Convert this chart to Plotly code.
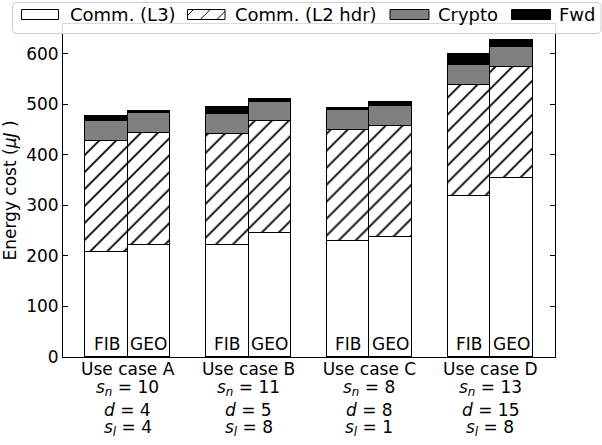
import plotly.graph_objects as go

# Use cases and their parameters
cases = ["A", "B", "C", "D"]
s_n = [10, 11, 8, 13]
d_vals = [4, 5, 8, 15]
s_l = [4, 8, 1, 8]
methods = ["FIB", "GEO"]

# Energy cost components (µJ) per use case, FIB bars then GEO bars
fib_l3 = [207, 221, 230, 319]
fib_l2 = [220, 220, 220, 220]
fib_crypto = [40, 39, 38, 39]
fib_fwd = [10, 15, 4, 22]

geo_l3 = [222, 246, 237, 355]
geo_l2 = [221, 221, 220, 219]
geo_crypto = [39, 38, 39, 39]
geo_fwd = [5, 5, 9, 15]

series_names = ["Comm. (L3)", "Comm. (L2 hdr)", "Crypto", "Fwd"]

FONT = "DejaVu Sans"
W, H = 602, 445
ML, MR, MT, MB = 63, 47, 24, 88
PW, PH = W - ML - MR, H - MT - MB

BAR_W = 0.35
idx = list(range(len(cases)))
x_fib = [i - BAR_W / 2 for i in idx]
x_geo = [i + BAR_W / 2 for i in idx]
x_all = x_fib + x_geo

styles = [
    dict(color="white"),
    dict(color="white", pattern=dict(shape="/", size=12, solidity=0.15,
                                     fgcolor="black", bgcolor="white", fgopacity=1)),
    dict(color="#808080"),
    dict(color="black"),
]
values = [
    fib_l3 + geo_l3,
    fib_l2 + geo_l2,
    fib_crypto + geo_crypto,
    fib_fwd + geo_fwd,
]

fig = go.Figure()
for name, vals, st in zip(series_names, values, styles):
    marker = dict(line=dict(color="black", width=1.2), **st)
    fig.add_trace(go.Bar(x=x_all, y=vals, width=BAR_W, name=name,
                         marker=marker, showlegend=False))

annotations = []
# method labels at the foot of each bar
for xs, m in ((x_fib, methods[0]), (x_geo, methods[1])):
    for x in xs:
        annotations.append(dict(x=x, y=0, xref="x", yref="y", text=m, showarrow=False,
                                xanchor="center", yanchor="bottom", yshift=1,
                                font=dict(family=FONT, size=17, color="black")))


def px_x(p):
    return (p - ML) / PW


def px_y(p):
    return (H - MB - p) / PH


# parameter lines under each use-case label
param_lines = [
    ([f"<i>s</i><sub><i>n</i></sub> = {v}" for v in s_n], 388),
    ([f"<i>d</i> = {v}" for v in d_vals], 410),
    ([f"<i>s</i><sub><i>l</i></sub> = {v}" for v in s_l], 428),
]
for texts, yc in param_lines:
    for i, t in zip(idx, texts):
        annotations.append(dict(x=i, y=px_y(yc), xref="x", yref="paper", text=t,
                                showarrow=False, xanchor="center", yanchor="middle",
                                height=18,
                                font=dict(family=FONT, size=17, color="black")))

shapes = []
# legend frame with rounded corners
lx0, lx1, ly0, ly1, rad = 12.5, 601, 2.5, 33.5, 4
path = (
    f"M{px_x(lx0 + rad)},{px_y(ly0)} L{px_x(lx1 - rad)},{px_y(ly0)} "
    f"Q{px_x(lx1)},{px_y(ly0)} {px_x(lx1)},{px_y(ly0 + rad)} "
    f"L{px_x(lx1)},{px_y(ly1 - rad)} Q{px_x(lx1)},{px_y(ly1)} {px_x(lx1 - rad)},{px_y(ly1)} "
    f"L{px_x(lx0 + rad)},{px_y(ly1)} Q{px_x(lx0)},{px_y(ly1)} {px_x(lx0)},{px_y(ly1 - rad)} "
    f"L{px_x(lx0)},{px_y(ly0 + rad)} Q{px_x(lx0)},{px_y(ly0)} {px_x(lx0 + rad)},{px_y(ly0)} Z"
)
shapes.append(dict(type="path", path=path, xref="paper", yref="paper", layer="above",
                   fillcolor="rgba(255,255,255,0.85)", line=dict(color="#cccccc", width=1)))

# legend swatches
sw_y0, sw_y1 = 9.5, 19.5
swatches = [(21.5, 58.5, "white"), (187.5, 225, "white"), (390, 429, "#808080"), (511.5, 550.5, "black")]
label_x = [68, 233, 436, 556.5]
for k, ((sx0, sx1, col), name, tx) in enumerate(zip(swatches, series_names, label_x)):
    shapes.append(dict(type="rect", xref="paper", yref="paper", layer="above",
                       x0=px_x(sx0), x1=px_x(sx1), y0=px_y(sw_y1), y1=px_y(sw_y0),
                       fillcolor=col, line=dict(color="black", width=1)))
    if k == 1:
        h = sw_y1 - sw_y0
        start = sx0 - h + 6
        while start < sx1:
            ax, ay = start, sw_y1
            bx, by = start + h, sw_y0
            if ax < sx0:
                ay -= sx0 - ax
                ax = sx0
            if bx > sx1:
                by += bx - sx1
                bx = sx1
            if bx > ax:
                shapes.append(dict(type="line", xref="paper", yref="paper", layer="above",
                                   x0=px_x(ax), y0=px_y(ay), x1=px_x(bx), y1=px_y(by),
                                   line=dict(color="black", width=1)))
            start += 16.7
    annotations.append(dict(x=px_x(tx), y=px_y(14.5), xref="paper", yref="paper",
                            text=name, showarrow=False, xanchor="left", yanchor="middle",
                            font=dict(family=FONT, size=18, color="black")))

fig.update_layout(
    width=W, height=H,
    margin=dict(l=ML, r=MR, t=MT, b=MB, autoexpand=False),
    paper_bgcolor="white", plot_bgcolor="white",
    barmode="stack", bargap=0,
    font=dict(family=FONT, size=17, color="black"),
    showlegend=False,
    annotations=annotations,
    shapes=shapes,
)
fig.update_xaxes(
    range=[-0.535, 3.535], tickmode="array", tickvals=idx,
    ticktext=[f"Use case {c}" for c in cases],
    showline=True, linecolor="black", linewidth=1, mirror=True,
    ticks="", showgrid=False, zeroline=False, ticklabelstandoff=-3,
    tickfont=dict(family=FONT, size=17, color="black"),
)
fig.update_yaxes(
    range=[0, 659], tickmode="array", tickvals=[0, 100, 200, 300, 400, 500, 600],
    showline=True, linecolor="black", linewidth=1, mirror="ticks",
    ticks="inside", ticklen=5, tickcolor="black", tickwidth=1,
    showgrid=False, zeroline=False,
    tickfont=dict(family=FONT, size=17, color="black"),
    title=dict(text="Energy cost (<i>μJ</i> )", standoff=6,
               font=dict(family=FONT, size=17, color="black")),
)

fig.write_html("out.html")
